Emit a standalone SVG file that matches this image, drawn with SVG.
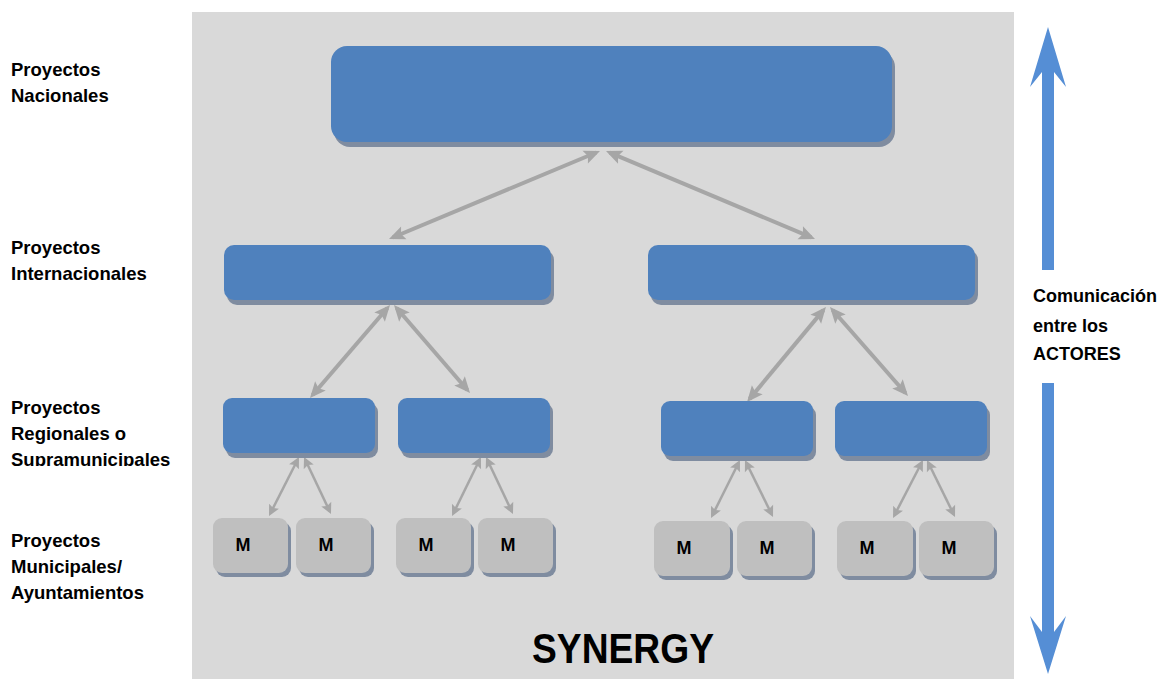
<svg xmlns="http://www.w3.org/2000/svg" width="1158" height="679" viewBox="0 0 1158 679">
<style>
.lbl{font-family:"Liberation Sans",Arial,sans-serif;font-weight:bold;font-size:18.5px;fill:#000}
.side{font-family:"Liberation Sans",Arial,sans-serif;font-weight:bold;font-size:18px;fill:#000}
.mt{font-family:"Liberation Sans",Arial,sans-serif;font-weight:bold;font-size:18px;fill:#000;text-anchor:middle}
.blue{fill:#4f81bd}
.shd{fill:#7f8ca0}
.mbox{fill:#bfbfbf}
.c1{stroke:#a6a6a6;stroke-width:4;fill:none;marker-start:url(#ahL);marker-end:url(#ahL)}
.c2{stroke:#a6a6a6;stroke-width:2.5;fill:none;marker-start:url(#ahS);marker-end:url(#ahS)}
</style>
<defs>
<marker id="ahL" markerUnits="userSpaceOnUse" markerWidth="17" markerHeight="14" refX="12" refY="7" orient="auto-start-reverse" overflow="visible">
<path d="M0,0 L16,7 L0,14 L3,7 z" fill="#a6a6a6"/>
</marker>
<marker id="ahS" markerUnits="userSpaceOnUse" markerWidth="12" markerHeight="11" refX="8" refY="5.5" orient="auto-start-reverse" overflow="visible">
<path d="M0,0 L11,5.5 L0,11 L2,5.5 z" fill="#a6a6a6"/>
</marker>
<clipPath id="clipSupra"><rect x="0" y="380" width="190" height="86"/></clipPath>
</defs>
<rect x="0" y="0" width="1158" height="679" fill="#ffffff"/>
<rect x="192" y="12" width="822" height="667" fill="#d9d9d9"/>

<g id="labels">
<text class="lbl" x="11" y="76">Proyectos</text>
<text class="lbl" x="11" y="102">Nacionales</text>
<text class="lbl" x="11" y="254">Proyectos</text>
<text class="lbl" x="11" y="280">Internacionales</text>
<text class="lbl" x="11" y="414">Proyectos</text>
<text class="lbl" x="11" y="440">Regionales o</text>
<text class="lbl" x="11" y="466" clip-path="url(#clipSupra)">Supramunicipales</text>
<text class="lbl" x="11" y="547">Proyectos</text>
<text class="lbl" x="11" y="573">Municipales/</text>
<text class="lbl" x="11" y="599">Ayuntamientos</text>
</g>

<g id="connectors">
<line class="c1" x1="596.3" y1="152.5" x2="392.7" y2="237.5"/>
<line class="c1" x1="609.7" y1="152.6" x2="811.3" y2="237.4"/>
<line class="c1" x1="387.4" y1="308" x2="312.6" y2="395"/>
<line class="c1" x1="396.6" y1="308" x2="467.4" y2="390"/>
<line class="c1" x1="823.4" y1="310.1" x2="749.6" y2="398.9"/>
<line class="c1" x1="832.6" y1="310" x2="905.4" y2="393"/>
<line class="c2" x1="297.6" y1="459.7" x2="270.4" y2="513.3"/>
<line class="c2" x1="305.3" y1="459.7" x2="329.7" y2="511.3"/>
<line class="c2" x1="479.6" y1="459.7" x2="453.4" y2="513.3"/>
<line class="c2" x1="487.3" y1="459.7" x2="511.7" y2="511.3"/>
<line class="c2" x1="738.6" y1="462.7" x2="712.4" y2="515.3"/>
<line class="c2" x1="746.3" y1="462.7" x2="771.7" y2="514.3"/>
<line class="c2" x1="921.6" y1="462.7" x2="894.4" y2="515.3"/>
<line class="c2" x1="928.3" y1="462.7" x2="953.7" y2="514.3"/>
</g>

<g id="nacional">
<rect class="shd" x="334" y="51" width="561" height="96" rx="16"/>
<rect class="blue" x="331" y="46" width="561" height="96" rx="16"/>
</g>
<g id="internacional-1">
<rect class="shd" x="227" y="250" width="327" height="55" rx="10"/>
<rect class="blue" x="224" y="245" width="327" height="55" rx="10"/>
</g>
<g id="internacional-2">
<rect class="shd" x="651" y="250" width="327" height="55" rx="10"/>
<rect class="blue" x="648" y="245" width="327" height="55" rx="10"/>
</g>
<g id="regional-1">
<rect class="shd" x="226" y="403" width="152" height="55" rx="9"/>
<rect class="blue" x="223" y="398" width="152" height="55" rx="9"/>
</g>
<g id="regional-2">
<rect class="shd" x="401" y="403" width="152" height="55" rx="9"/>
<rect class="blue" x="398" y="398" width="152" height="55" rx="9"/>
</g>
<g id="regional-3">
<rect class="shd" x="664" y="406" width="152" height="55" rx="9"/>
<rect class="blue" x="661" y="401" width="152" height="55" rx="9"/>
</g>
<g id="regional-4">
<rect class="shd" x="838" y="406" width="152" height="55" rx="9"/>
<rect class="blue" x="835" y="401" width="152" height="55" rx="9"/>
</g>

<g id="m1"><rect class="shd" x="216" y="522" width="75" height="55" rx="9"/><rect class="mbox" x="213" y="518" width="75" height="55" rx="9"/><text class="mt" x="243" y="551">M</text></g>
<g id="m2"><rect class="shd" x="299" y="522" width="75" height="55" rx="9"/><rect class="mbox" x="296" y="518" width="75" height="55" rx="9"/><text class="mt" x="326" y="551">M</text></g>
<g id="m3"><rect class="shd" x="399" y="522" width="75" height="55" rx="9"/><rect class="mbox" x="396" y="518" width="75" height="55" rx="9"/><text class="mt" x="426" y="551">M</text></g>
<g id="m4"><rect class="shd" x="481" y="522" width="75" height="55" rx="9"/><rect class="mbox" x="478" y="518" width="75" height="55" rx="9"/><text class="mt" x="508" y="551">M</text></g>
<g id="m5"><rect class="shd" x="657" y="525" width="76" height="55" rx="9"/><rect class="mbox" x="654" y="521" width="76" height="55" rx="9"/><text class="mt" x="684" y="554">M</text></g>
<g id="m6"><rect class="shd" x="740" y="525" width="75" height="55" rx="9"/><rect class="mbox" x="737" y="521" width="75" height="55" rx="9"/><text class="mt" x="767" y="554">M</text></g>
<g id="m7"><rect class="shd" x="840" y="525" width="76" height="55" rx="9"/><rect class="mbox" x="837" y="521" width="76" height="55" rx="9"/><text class="mt" x="867" y="554">M</text></g>
<g id="m8"><rect class="shd" x="922" y="525" width="75" height="55" rx="9"/><rect class="mbox" x="919" y="521" width="75" height="55" rx="9"/><text class="mt" x="949" y="554">M</text></g>

<g id="synergy">
<text x="623" y="663" text-anchor="middle" font-family="'Liberation Sans',Arial,sans-serif" font-weight="bold" font-size="42" textLength="182" lengthAdjust="spacingAndGlyphs" fill="#000">SYNERGY</text>
</g>

<g id="comunicacion">
<path d="M1048,27 L1066,87 L1054,72 L1054,270 L1042,270 L1042,72 L1030,87 z" fill="#558ed5"/>
<path d="M1042,383 L1054,383 L1054,632 L1066,616 L1048,674 L1030,616 L1042,632 z" fill="#558ed5"/>
<text class="side" x="1033" y="302">Comunicación</text>
<text class="side" x="1033" y="332">entre los</text>
<text class="side" x="1033" y="360">ACTORES</text>
</g>
</svg>
